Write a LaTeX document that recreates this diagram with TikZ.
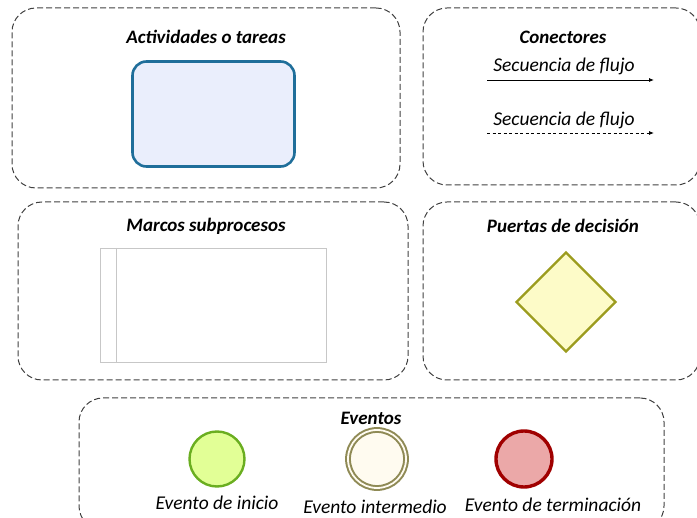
\documentclass[tikz,border=0pt]{standalone}
\usepackage{fontspec}
\setmainfont{Carlito}
\usetikzlibrary{shapes.geometric,arrows.meta}
\definecolor{taskblue}{HTML}{1F6E9A}
\definecolor{taskfill}{HTML}{EAEEFC}
\definecolor{gateline}{HTML}{9C9C1E}
\definecolor{gatefill}{HTML}{FDFBC8}
\definecolor{startline}{HTML}{6AAE20}
\definecolor{startfill}{HTML}{E2FF96}
\definecolor{midline}{HTML}{8F8A55}
\definecolor{midfill}{HTML}{FFFBF0}
\definecolor{endline}{HTML}{A00000}
\definecolor{endfill}{HTML}{EBA8A8}
\tikzset{
  grupo/.style={draw=black!75,dashed,dash pattern=on 6pt off 3pt,line width=1pt,rounded corners=24pt},
  titulo/.style={font=\bfseries\itshape\fontsize{19}{22}\selectfont},
  etiqueta/.style={font=\itshape\fontsize{19.5}{22}\selectfont}
}
\begin{document}
\begin{tikzpicture}[x=1pt,y=-1pt]
            \useasboundingbox (0,0) rectangle (697,518);
            % marcos de grupo
            \begin{scope}[every node/.style={grupo,inner sep=0pt}]
                \node (act)[minimum width=388pt,minimum height=180pt] at (206,98) {};
                \node (con)[minimum width=277pt,minimum height=177pt] at (561.5,96.5) {};
                \node (sub)[minimum width=390pt,minimum height=178pt] at (213,291) {};
                \node (pue)[minimum width=277pt,minimum height=178pt] at (561.5,291) {};
                \node (eve)[minimum width=585pt,minimum height=132pt] at (371.5,464) {};
            \end{scope}

            \begin{scope}[every node/.style={titulo}]
                \node (tact) at (206,37) {Actividades o tareas};
                \node (tcon) at (563,37) {Conectores};
                \node (tsub) at (206,226) {Marcos subprocesos};
                \node (tpue) at (563,226) {Puertas de decisión};
                \node (teve) at (371,418) {Eventos};
            \end{scope}

            % tarea, subproceso y puerta
            \node (tarea)[draw=taskblue,fill=taskfill,line width=2.6pt,rounded corners=14pt,
                minimum width=162pt,minimum height=105pt] at (213.5,114) {};
            \node (marco)[draw=black!22,line width=0.8pt,minimum width=226pt,minimum height=114pt] at (213,305) {};
            \draw[black!22,line width=0.8pt] (116,248) -- (116,362);
            \node (puerta)[diamond,draw=gateline,fill=gatefill,line width=2.2pt,
                minimum width=100pt,minimum height=100pt,inner sep=0pt] at (566,302) {};

            % conectores
            \coordinate (s1) at (487,80);
            \coordinate (e1) at (654,80);
            \coordinate (s2) at (487,133);
            \coordinate (e2) at (654,133);
            \begin{scope}[every node/.style={etiqueta}]
                \node (l1) at (564,66) {Secuencia de flujo};
                \node (l2) at (564,120) {Secuencia de flujo};
            \end{scope}
            \path [-{Latex[length=5pt,width=4pt]},line width=0.8pt] (s1) edge (e1);
            \path [-{Latex[length=5pt,width=4pt]},line width=0.8pt,dashed,dash pattern=on 3pt off 2.5pt] (s2) edge (e2);

            % eventos
            \begin{scope}[every node/.style={circle,inner sep=0pt}]
                \node (inicio)[draw=startline,fill=startfill,line width=2.4pt,minimum size=55pt] at (217,459) {};
                \node (inter)[draw=midline,fill=midfill,line width=2pt,double=midfill,double distance=1.8pt,minimum size=58pt] at (377,459) {};
                \node (fin)[draw=endline,fill=endfill,line width=3.4pt,minimum size=56pt] at (524,459) {};
            \end{scope}
            \begin{scope}[every node/.style={etiqueta}]
                \node (linicio) at (217,503) {Evento de inicio};
                \node (linter) at (375,507) {Evento intermedio};
                \node (lfin) at (553,505) {Evento de terminación};
            \end{scope}
\end{tikzpicture}
\end{document}
